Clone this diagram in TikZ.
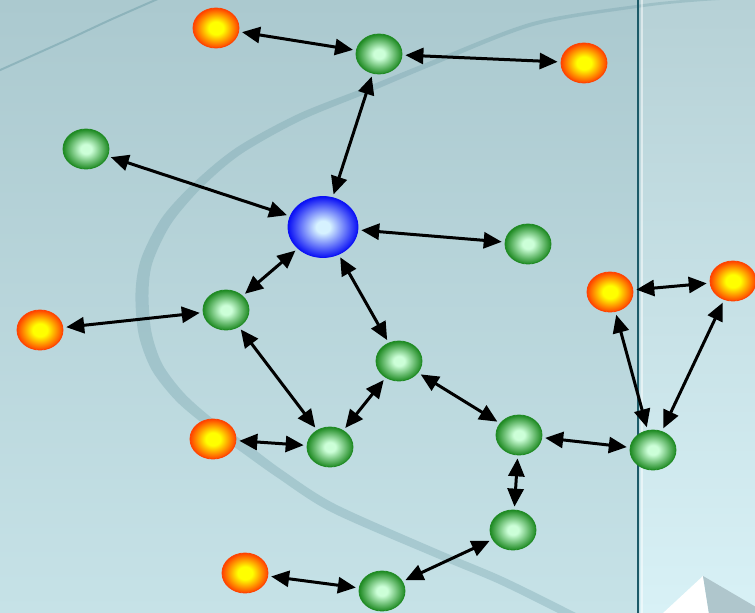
\documentclass[tikz,border=0pt]{standalone}
\usepackage{xcolor}
\usepackage{tikz}
\usetikzlibrary{arrows.meta,shapes.geometric}
\definecolor{bgtop}{HTML}{ABC9CF}
\definecolor{bgbot}{HTML}{C6E2E7}
\definecolor{paneltop}{HTML}{B6D1D6}
\definecolor{panelbot}{HTML}{D8F1F6}
\definecolor{arcc}{HTML}{6F9EA8}
\definecolor{rule}{HTML}{1C5A68}
\definecolor{gin}{HTML}{CCFFD8}
\definecolor{gout}{HTML}{1E8A22}
\definecolor{oin}{HTML}{FFFF00}
\definecolor{oout}{HTML}{FF4200}
\definecolor{bin}{HTML}{D6F2FF}
\definecolor{bout}{HTML}{0A10F5}
\definecolor{pyrface}{HTML}{AFC6CC}
\pgfdeclareradialshading{gshade}{\pgfpointorigin}{color(0bp)=(gin); color(6bp)=(gin); color(25bp)=(gout); color(50bp)=(gout)}
\pgfdeclareradialshading{oshade}{\pgfpointorigin}{color(0bp)=(oin); color(8bp)=(oin); color(25bp)=(oout); color(50bp)=(oout)}
\pgfdeclareradialshading{bshade}{\pgfpointorigin}{color(0bp)=(bin); color(5bp)=(bin); color(25bp)=(bout); color(50bp)=(bout)}
\tikzset{
  ball/.style={ellipse, inner sep=0pt, minimum width=46pt, minimum height=40pt, line width=0.8pt, shade},
  gball/.style={ball, shading=gshade, draw=gout},
  oball/.style={ball, shading=oshade, draw=oout},
  hubball/.style={ball, minimum width=70pt, minimum height=61pt, shading=bshade, draw=bout},
  link/.style={arrows={Triangle[length=18pt,width=16pt]-Triangle[length=18pt,width=16pt]}, line width=3pt, shorten <=3pt, shorten >=3pt},
  swoosh/.style={fill=arcc, fill opacity=0.33},
}

\begin{document}
\begin{tikzpicture}[x=1pt, y=-1pt]
  \useasboundingbox (0,0) rectangle (755,613);
  % background
  \shade[top color=bgtop, bottom color=bgbot] (0,0) rectangle (640,613);
  \shade[top color=paneltop, bottom color=panelbot] (640,0) rectangle (755,613);
  \fill[swoosh] plot[smooth] coordinates {(760,-4) (700,-1.25) (639.8,4.5) (532.5,22.1) (429.1,61.7) (365.9,87.2) (298.5,113.8) (237.8,146.7) (196.9,179.8) (162.5,216.9) (141.3,258.1) (135.5,292.8) (138.6,334.3) (151.7,369.9) (176,400.8) (206.9,426.9) (244.1,454) (277.5,477.7) (331,512) (431.4,555.7) (498.3,583.6) (565.2,616.6) (618.2,643.6)}
    -- plot[smooth] coordinates {(621.8,636.4) (568.8,609.4) (501.7,576.4) (434.6,548.3) (335,504) (282.5,470.3) (249.9,446) (213.1,419.1) (184,393.2) (162.3,364.1) (151.4,331.7) (148.5,293.2) (152.7,261.9) (171.5,223.1) (203.1,186.2) (242.2,153.3) (301.5,120.2) (368.1,92.8) (430.9,66.3) (533.5,25.9) (640.2,7.5) (700,1.25) (760,-2)} -- cycle;
  \draw[arcc, opacity=0.5, line width=2pt] plot[smooth] coordinates {(-2,71) (67,40) (110,20) (160,-2)};
  \draw[white, opacity=0.5, line width=2pt] (641.5,0) -- (641.5,613);
  \draw[rule, line width=2pt] (638,0) -- (638,613);
  \fill[white] (703,576) -- (662,614) -- (709,614) -- cycle;
  \fill[pyrface] (703,576) -- (709,614) -- (756,614) -- (756,607) -- cycle;

  \node[hubball] (hub) at (323,227) {};
  \node[gball] (g1) at (379,54) {};
  \node[gball] (g2) at (86,149) {};
  \node[gball] (g3) at (528,244) {};
  \node[gball] (g4) at (226,310) {};
  \node[gball] (g5) at (399,361) {};
  \node[gball] (g6) at (653,450) {};
  \node[gball] (g7) at (330,447) {};
  \node[gball] (g8) at (519,435) {};
  \node[gball] (g9) at (513,530) {};
  \node[gball] (g10) at (382,591) {};
  \node[oball] (o1) at (216,28) {};
  \node[oball] (o2) at (584,63) {};
  \node[oball] (o3) at (610,292) {};
  \node[oball] (o4) at (733,281) {};
  \node[oball] (o5) at (40,330) {};
  \node[oball] (o6) at (213,439) {};
  \node[oball] (o7) at (245,573) {};

  \draw[link] (o1) -- (g1);
  \draw[link] (g1) -- (o2);
  \draw[link] (g1) -- (hub);
  \draw[link] (g2) -- (hub);
  \draw[link] (hub) -- (g3);
  \draw[link] (hub) -- (g4);
  \draw[link] (hub) -- (g5);
  \draw[link] (o5) -- (g4);
  \draw[link] (g4) -- (g7);
  \draw[link] (o6) -- (g7);
  \draw[link] (g7) -- (g5);
  \draw[link] (g5) -- (g8);
  \draw[link] (g8) -- (g6);
  \draw[link] (g8) -- (g9);
  \draw[link] (g10) -- (g9);
  \draw[link] (o7) -- (g10);
  \draw[link] (o3) -- (o4);
  \draw[link] (o3) -- (g6);
  \draw[link] (o4) -- (g6);
\end{tikzpicture}
\end{document}
